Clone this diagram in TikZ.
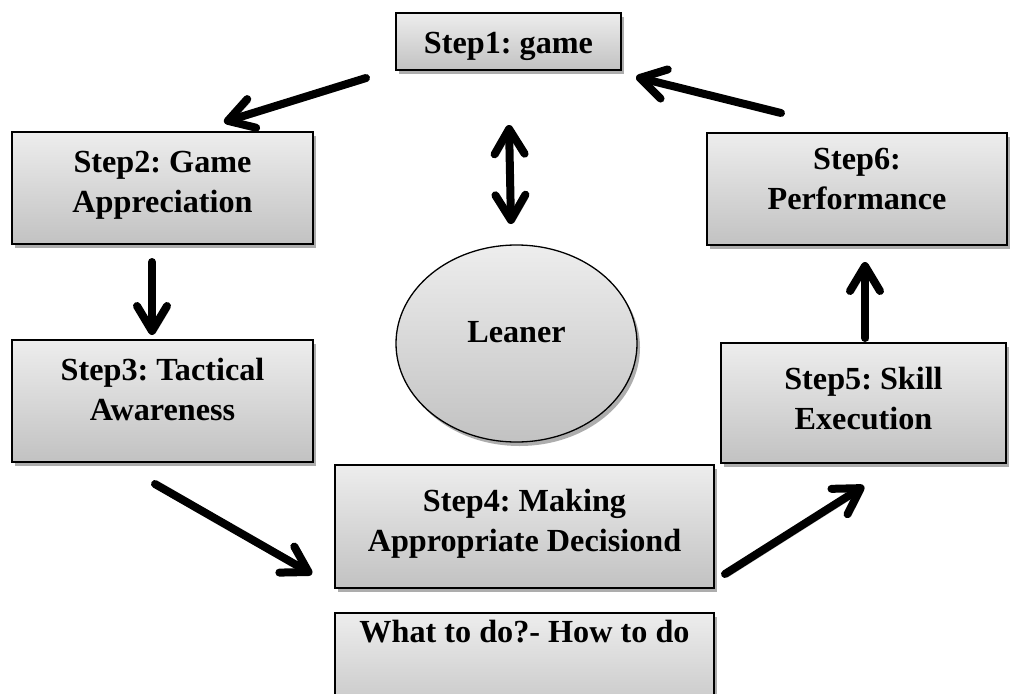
\documentclass[tikz,border=0pt]{standalone}
\usepackage{fontspec}
\setmainfont{Liberation Serif}
\frenchspacing
\usetikzlibrary{shapes.geometric,shadows,arrows.meta}
\tikzset{
  shade/.style={top color=gray!14, bottom color=gray!48},
  shad/.style={drop shadow={shadow xshift=3pt, shadow yshift=-4pt, fill=black!40, opacity=0.8}},
  box/.style={rectangle, draw=black, line width=1.5pt, inner sep=0pt, shade, shad},
  ell/.style={ellipse, draw=black, line width=1.3pt, inner sep=0pt, shade, shad},
  txt/.style={font=\fontsize{32.2}{40}\selectfont\bfseries, align=center, inner sep=0pt, text=black},
  tipb/.tip={Straight Barb[length=25pt, width=30pt, line width=8pt, round]},
  arr/.style={line width=8pt, line cap=round, -tipb,
    preaction={draw=black!28, transform canvas={xshift=3pt, yshift=-3pt}}},
  darr/.style={line width=8pt, line cap=round, tipb-tipb,
    preaction={draw=black!28, transform canvas={xshift=3pt, yshift=-3pt}}},
}
\begin{document}
\begin{tikzpicture}[x=1pt, y=-1pt]
\useasboundingbox (0,0) rectangle (1014,693);
\clip (0,0) rectangle (1014,693);

\node[box, minimum width=225, minimum height=57,
  label={[txt, name=t1, yshift=-4.5pt]center:{Step1: game}}] (s1) at (508.5,41.5) {};
\node[box, minimum width=301, minimum height=112,
  label={[txt, name=t2, yshift=3pt]center:{Step2: Game\\Appreciation}}] (s2) at (162.5,188) {};
\node[box, minimum width=301, minimum height=122,
  label={[txt, name=t3, yshift=12pt]center:{Step3: Tactical\\Awareness}}] (s3) at (162.5,401) {};
\node[box, minimum width=379, minimum height=123,
  label={[txt, name=t4, yshift=3pt]center:{Step4: Making\\Appropriate Decisiond}}] (s4) at (524.5,526.5) {};
\node[box, minimum width=285, minimum height=120,
  label={[txt, name=t5, yshift=4pt]center:{Step5: Skill\\Execution}}] (s5) at (863.5,403) {};
\node[box, minimum width=300, minimum height=112,
  label={[txt, name=t6, yshift=10pt]center:{Step6:\\Performance}}] (s6) at (857,189) {};
\node[box, minimum width=379, minimum height=112,
  label={[txt, name=tw, yshift=37pt]center:{What to do?- How to do}}] (sw) at (524.5,669) {};
\node[ell, minimum width=241, minimum height=197,
  label={[txt, name=tl, yshift=11pt]center:{Leaner}}] (le) at (516.5,343.5) {};

% arrow end points
\coordinate (a12s) at (366,78);  \coordinate (a12e) at (224,122);
\coordinate (a23s) at (152,262); \coordinate (a23e) at (152,335);
\coordinate (a34s) at (155,484); \coordinate (a34e) at (312,574);
\coordinate (a45s) at (725,574); \coordinate (a45e) at (864,486);
\coordinate (a56s) at (865,338); \coordinate (a56e) at (865,262);
\coordinate (a61s) at (781,113); \coordinate (a61e) at (636,77);
\coordinate (dls) at (509,125);  \coordinate (dle) at (511,224);

\draw[arr] (a12s) -- (a12e);
\draw[arr] (a23s) -- (a23e);
\draw[arr] (a34s) -- (a34e);
\draw[arr] (a45s) -- (a45e);
\draw[arr] (a56s) -- (a56e);
\draw[arr] (a61s) -- (a61e);
\draw[darr] (dls) -- (dle);
\end{tikzpicture}
\end{document}
